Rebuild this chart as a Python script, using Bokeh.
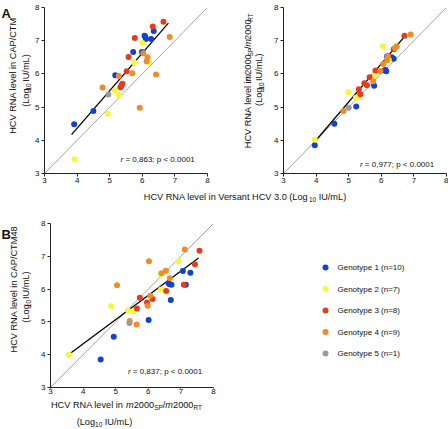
import math
from bokeh.plotting import figure
from bokeh.models import Range1d, FixedTicker, Label
from bokeh.layouts import row, column
from bokeh.embed import file_html
from bokeh.resources import INLINE

# ---------------- data ----------------
genotype_labels = ["Genotype 1 (n=10)", "Genotype 2 (n=7)", "Genotype 3 (n=8)",
                   "Genotype 4 (n=9)", "Genotype 5 (n=1)"]
genotype_colors = ["#1440d4", "#f6f63a", "#e63b1c", "#f28b22", "#9b9b9b"]
ticks = [3, 4, 5, 6, 7, 8]
diag = [3, 8]

# Panel A left: Versant (x) vs CAP/CTM (y)
a1_x = [3.91, 4.50, 5.17, 5.72, 6.07, 6.11, 6.35, 6.27, 5.99, 6.09,
        3.92, 4.94, 5.16, 5.28, 5.75, 6.00, 6.19,
        6.65, 6.32, 5.77, 5.58, 5.52, 5.39, 5.33, 5.36,
        6.84, 6.16, 6.13, 6.03, 5.69, 5.28, 4.78, 6.42, 5.92,
        4.96]
a1_y = [4.48, 4.88, 5.96, 6.66, 7.15, 7.05, 7.29, 7.05, 6.66, 7.12,
        3.43, 4.80, 5.50, 5.36, 6.35, 6.93, 6.35,
        7.57, 7.43, 7.08, 6.51, 6.08, 5.70, 5.60, 5.65,
        7.11, 6.50, 6.38, 6.62, 6.02, 5.94, 5.59, 5.98, 4.98,
        5.38]
a1_g = [1] * 10 + [2] * 7 + [3] * 8 + [4] * 9 + [5]
a1_reg_x = [3.83, 6.80]
a1_reg_y = [4.17, 7.53]
a1_stat = "0,863"

# Panel A right: Versant (x) vs m2000 (y)
a2_x = [3.96, 4.56, 5.23, 5.78, 6.10, 6.15, 6.18, 6.32, 6.38, 6.13,
        3.96, 4.99, 5.22, 5.30, 6.05, 5.80, 6.23,
        6.71, 6.38, 5.82, 5.64, 5.48, 5.56, 5.31, 5.36,
        6.90, 6.47, 6.42, 6.20, 6.18, 6.06, 5.97, 5.75, 4.84,
        5.00]
a2_y = [3.85, 4.50, 5.02, 5.64, 6.10, 6.08, 6.53, 6.50, 6.46, 6.12,
        4.02, 5.45, 5.28, 5.32, 6.83, 5.97, 6.42,
        7.15, 6.74, 6.10, 5.90, 5.72, 5.66, 5.54, 5.39,
        7.19, 6.83, 6.78, 6.53, 6.42, 6.30, 6.09, 5.78, 4.88,
        4.98]
a2_g = [1] * 10 + [2] * 7 + [3] * 8 + [4] * 9 + [5]
a2_reg_x = [3.92, 6.77]
a2_reg_y = [3.91, 7.19]
a2_stat = "0,977"

# Panel B: m2000 (x) vs CAP/CTM48 (y)
b_x = [4.54, 4.94, 6.01, 6.69, 6.65, 6.71, 7.06, 7.29, 7.15, 6.62,
       3.57, 4.86, 5.38, 5.54, 6.39, 6.93, 6.37,
       7.57, 7.43, 7.09, 6.55, 6.13, 5.96, 5.74, 5.65,
       7.12, 6.02, 6.54, 6.41, 6.66, 5.04, 6.06, 5.98, 5.64, 5.43,
       5.42]
b_y = [3.85, 4.55, 5.06, 5.67, 6.15, 6.13, 6.55, 6.50, 6.13, 6.18,
       4.00, 5.48, 5.35, 5.32, 5.99, 6.85, 6.46,
       7.17, 6.76, 6.13, 5.94, 5.70, 5.59, 5.74, 5.41,
       7.21, 6.85, 6.56, 6.48, 6.33, 6.12, 5.80, 5.49, 4.92, 5.03,
       4.97]
b_g = [1] * 10 + [2] * 7 + [3] * 8 + [4] * 10 + [5]
b_reg_x = [3.55, 7.54]
b_reg_y = [4.00, 6.95]
b_stat = "0,837"

# ---------------- helpers ----------------
FONT = "Liberation Sans"
LBL = 9.2  # axis label font px

_W = {' ': 278, '(': 333, ')': 333, ',': 278, '.': 278, '/': 278, ';': 278,
      '<': 584, '=': 584, 'A': 667, 'B': 667, 'C': 722, 'G': 778, 'H': 722,
      'I': 278, 'L': 556, 'M': 833, 'N': 722, 'P': 667, 'R': 722, 'S': 667,
      'T': 611, 'U': 722, 'V': 667, 'a': 556, 'e': 556, 'g': 556, 'i': 222,
      'l': 222, 'm': 833, 'n': 556, 'o': 556, 'p': 556, 'r': 333, 's': 500,
      't': 278, 'v': 500, 'y': 500}


def tw(s, fs):
    return sum(_W.get(c, 556) for c in s) * fs / 1000.0


class Geom:
    def __init__(self, fl, ft, fw, fh, x0, x1, y0, y1):
        self.fl, self.ft, self.fw, self.fh = fl, ft, fw, fh
        self.x0, self.x1, self.y0, self.y1 = x0, x1, y0, y1

    def to_data(self, px, py):
        x = self.x0 + (px - self.fl) / self.fw * (self.x1 - self.x0)
        y = self.y1 - (py - self.ft) / self.fh * (self.y1 - self.y0)
        return x, y


def place(fig, geom, segs, cx, cy, fs, rot=False, align="center", bold=False):
    """Draw a run of text pieces (normal / italic / subscript), middle-anchored."""
    sizes = [fs * 0.7 if k == "sub" else fs for t, k in segs]
    widths = [tw(t, s) for (t, k), s in zip(segs, sizes)]
    total = sum(widths)
    pos = {"center": -total / 2.0, "right": -total, "left": 0.0}[align]
    for (t, k), s, w in zip(segs, sizes, widths):
        body = t.lstrip(" ")
        lead = tw(t[:len(t) - len(body)], s)   # SVG drops leading blanks
        shift = 0.325 * fs if k == "sub" else 0.0
        if rot:
            px, py, ang = cx + shift, cy - (pos + lead), math.pi / 2
        else:
            px, py, ang = cx + pos + lead, cy + shift, 0.0
        x, y = geom.to_data(px, py)
        style = "italic" if k == "i" else ("bold" if bold else "normal")
        fig.add_layout(Label(x=x, y=y, text=body, angle=ang, text_font=FONT,
                             text_font_size=f"{s:.2f}px", text_font_style=style,
                             text_align="left", text_baseline="middle",
                             text_color="#111111"))
        pos += w


def strip(w, h):
    f = figure(width=w, height=h, x_range=Range1d(0, w), y_range=Range1d(0, h),
               output_backend="svg", toolbar_location=None, title=None,
               x_axis_type=None, y_axis_type=None, min_border=0)
    f.outline_line_color = None
    f.grid.visible = False
    return f, Geom(0, 0, w, h, 0, w, 0, h)


def panel(xs, ys, gs, rx, ry, width, height, bl, br, bt, bb, xt_out=3, xt_std=2):
    p = figure(width=width, height=height, x_range=Range1d(3, 8), y_range=Range1d(3, 8),
               output_backend="svg", toolbar_location=None, title=None,
               min_border_left=bl, min_border_right=br, min_border_top=bt,
               min_border_bottom=bb)
    p.outline_line_color = None
    p.grid.visible = False
    for ax in (p.xaxis[0], p.yaxis[0]):
        ax.ticker = FixedTicker(ticks=ticks)
        ax.minor_tick_line_color = None
        ax.major_tick_in = 0
        ax.major_tick_out = 3
        ax.axis_line_color = "#222222"
        ax.major_tick_line_color = "#222222"
        ax.major_label_text_font = FONT
        ax.major_label_text_font_size = "8px"
        ax.major_label_text_color = "#111111"
        ax.major_label_standoff = 2
    p.xaxis[0].major_tick_out = xt_out
    p.xaxis[0].major_label_standoff = xt_std
    p.line(diag, diag, line_color="#8a8a8a", line_width=0.8)
    p.line(rx, ry, line_color="#000000", line_width=1.3)
    for gi, col in enumerate(genotype_colors, start=1):
        px = [x for x, g in zip(xs, gs) if g == gi]
        py = [y for y, g in zip(ys, gs) if g == gi]
        p.scatter(px, py, size=6, fill_color=col, line_color=None)
    geom = Geom(bl, bt, width - bl - br, height - bt - bb, 3, 8, 3, 8)
    return p, geom


def stat_segs(v):
    return [("r", "i"), (f" = {v}; p < 0.0001", "n")]


log_segs = [("(Log", "n"), ("10", "sub"), (" IU/mL)", "n")]
m2000_segs = [("HCV RNA level in ", "n"), ("m", "i"), ("2000", "n"), ("SP", "sub"),
              ("/", "n"), ("m", "i"), ("2000", "n"), ("RT", "sub")]

# ---------------- row 1 (panel A) : page y 0..187 ----------------
RH = 187
yA1, gyA1 = strip(32, RH)
place(yA1, gyA1, [("A", "n")], 1.0, 7.3, 13, align="left", bold=True)
place(yA1, gyA1, [("HCV RNA level in CAP/CTM", "n")], 12.8, 84, LBL, rot=True)
place(yA1, gyA1, log_segs, 25.0, 84, LBL, rot=True)

pA1, gA1 = panel(a1_x, a1_y, a1_g, a1_reg_x, a1_reg_y, 206, RH, 10, 31, 7, 14, xt_std=1)
place(pA1, gA1, stat_segs(a1_stat), 193.3 - 32, 159, 8, align="right")

yA2, gyA2 = strip(33, RH)
place(yA2, gyA2, m2000_segs, 247 - 238, 83, LBL, rot=True)
place(yA2, gyA2, log_segs, 258.5 - 238, 83, LBL, rot=True)

pA2, gA2 = panel(a2_x, a2_y, a2_g, a2_reg_x, a2_reg_y, 177, RH, 10, 2, 7, 14, xt_std=1)
place(pA2, gA2, stat_segs(a2_stat), 432.7 - 271, 163.5, 8, align="right")

# shared x label : page y 187..203
xA, gxA = strip(448, 16)
place(xA, gxA, [("HCV RNA level in Versant HCV 3.0 (Log", "n"), ("10", "sub"),
                (" IU/mL)", "n")], 244.5, 196 - 187, LBL)

# ---------------- row 2 (panel B) : page y 203..429 ----------------
BH = 195
yB, gyB = strip(38, BH)
place(yB, gyB, [("B", "n")], 1.0, 216.6 - 203, 13, align="left", bold=True)
place(yB, gyB, [("HCV RNA level in CAP/CTM48", "n")], 13.0, 293 - 203, LBL, rot=True)
place(yB, gyB, log_segs, 25.0, 293 - 203, LBL, rot=True)

pB, gB = panel(b_x, b_y, b_g, b_reg_x, b_reg_y, 202, BH, 10, 27, 20, 11,
               xt_out=1, xt_std=0)
place(pB, gB, stat_segs(b_stat), 200.7 - 38, 374 - 203 - 3.0, 8, align="right")

xB, gxB = strip(240, 31)
place(xB, gxB, m2000_segs, 126, 404 - 398, LBL)
place(xB, gxB, log_segs, 104, 421 - 398, LBL)

# legend : page x 240..448, y 203..429
LW, LH = 208, 226
lf, glf = strip(LW, LH)
dot_x = [325 - 240] * len(genotype_labels)
dot_cy = [267 - 203 + 21.5 * i for i in range(len(genotype_labels))]
for lab, col, dx, dcy in zip(genotype_labels, genotype_colors, dot_x, dot_cy):
    lf.scatter([dx], [LH - dcy], size=6, fill_color=col, line_color=None)
    place(lf, glf, [(lab, "n")], 337 - 240, dcy, 8, align="left")

layout = column(row(yA1, pA1, yA2, pA2), xA,
                row(column(row(yB, pB), xB), lf))
open("out.html", "w").write(file_html(layout, INLINE))
